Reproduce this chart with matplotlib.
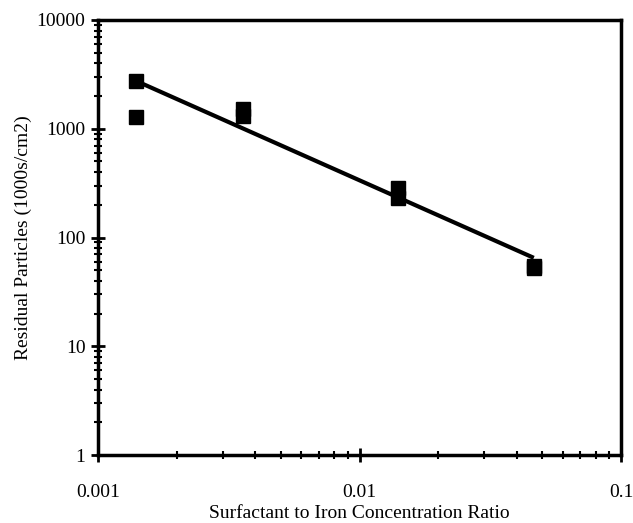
import matplotlib
matplotlib.use("Agg")
import matplotlib.pyplot as plt
from matplotlib.ticker import LogLocator, FixedLocator, NullFormatter

# Data
ratio = [0.00140, 0.00140, 0.00359, 0.00359, 0.01403, 0.01403, 0.0465, 0.0465]
particles = [2750, 1280, 1520, 1310, 285, 231, 55, 52]
fit_x = [0.00140, 0.0464]
fit_y = [2750, 65]
xticks = [0.001, 0.01, 0.1]
xticklabels = ["0.001", "0.01", "0.1"]
yticks = [1, 10, 100, 1000, 10000]
yticklabels = ["1", "10", "100", "1000", "10000"]

plt.rcParams['font.family'] = ['Liberation Serif', 'DejaVu Serif']

fig = plt.figure(figsize=(6.33, 5.23), dpi=100)
ax = fig.add_axes([98/633, 1-455/523, (621-98)/633, (455-20)/523])
ax.set_xscale('log')
ax.set_yscale('log')
ax.set_xlim(0.001, 0.1)
ax.set_ylim(1, 10000)

ax.plot(fit_x, fit_y, color='black', lw=3, solid_capstyle='butt', zorder=2)
ax.plot(ratio, particles, linestyle='none', marker='s', markersize=10,
        color='black', zorder=3)

ax.xaxis.set_major_locator(FixedLocator(xticks))
ax.set_xticklabels(xticklabels)
ax.yaxis.set_major_locator(FixedLocator(yticks))
ax.set_yticklabels(yticklabels)
ax.xaxis.set_minor_locator(LogLocator(base=10, subs=range(2, 10)))
ax.yaxis.set_minor_locator(LogLocator(base=10, subs=range(2, 10)))
ax.xaxis.set_minor_formatter(NullFormatter())
ax.yaxis.set_minor_formatter(NullFormatter())

ax.tick_params(which='major', direction='inout', length=10, width=2,
               labelsize=14, top=False, right=False, pad=4)
ax.tick_params(which='minor', direction='inout', length=6, width=1.5,
               top=False, right=False)
ax.tick_params(axis='x', which='major', pad=16)

for side in ['left', 'bottom', 'top', 'right']:
    ax.spines[side].set_linewidth(2.5)

ax.set_xlabel("Surfactant to Iron Concentration Ratio", fontsize=14, labelpad=3)
ax.set_ylabel("Residual Particles (1000s/cm2)", fontsize=14, labelpad=3)

fig.savefig("out.png", dpi=100)
